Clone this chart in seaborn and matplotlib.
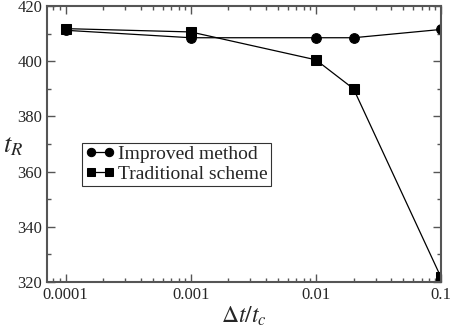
import numpy as np
import pandas as pd
import seaborn as sns
import matplotlib
matplotlib.use("Agg")
import matplotlib.pyplot as plt
from matplotlib.ticker import LogLocator, FixedLocator, FixedFormatter, MultipleLocator

dt = [0.0001, 0.001, 0.01, 0.02, 0.1]
improved = [411.2, 408.5, 408.5, 408.5, 411.5]
traditional = [411.8, 410.6, 400.5, 390.0, 321.7]

df = pd.DataFrame({
    "dt": dt * 2,
    "tR": improved + traditional,
    "method": ["Improved method"] * 5 + ["Traditional scheme"] * 5,
})

sns.set_style("ticks")
plt.rcParams["font.family"] = ["Liberation Serif", "DejaVu Serif"]
plt.rcParams["mathtext.fontset"] = "stix"

fig = plt.figure(figsize=(4.52, 3.28), dpi=100)
ax = fig.add_axes([47 / 452, 1 - 282 / 328, (441 - 47) / 452, (282 - 6) / 328])

sns.lineplot(data=df, x="dt", y="tR", hue="method", style="method",
             markers={"Improved method": "o", "Traditional scheme": "s"},
             dashes=False, palette=["black", "black"], linewidth=0.9,
             markersize=7, markeredgecolor="black", ax=ax)

ax.set_xscale("log")
ax.set_xlim(7.1e-5, 0.1)
ax.set_ylim(320, 420)

ax.xaxis.set_major_locator(FixedLocator([0.0001, 0.001, 0.01, 0.1]))
ax.xaxis.set_major_formatter(FixedFormatter(["0.0001", "0.001", "0.01", "0.1"]))
ax.xaxis.set_minor_locator(LogLocator(base=10, subs=np.arange(2, 10)))
ax.yaxis.set_major_locator(MultipleLocator(20))
ax.yaxis.set_minor_locator(MultipleLocator(10))

ax.tick_params(which="both", direction="in", top=True, right=True,
               labelsize=12, color="#555555")
ax.tick_params(which="major", length=6, width=1)
ax.tick_params(which="minor", length=3, width=1)
ax.tick_params(axis="y", which="both", labelright=False)
for s in ax.spines.values():
    s.set_color("#555555")
    s.set_linewidth(1.5)

ax.set_xlabel(r"$\Delta t/t_c$", fontsize=17, labelpad=1)
ax.set_ylabel(r"$t_R$", fontsize=19, rotation=0, labelpad=12)
ax.yaxis.set_label_coords(-0.085, 0.45)

handles, labels = ax.get_legend_handles_labels()
for h in handles:
    h.set_markersize(6)
    h.set_linewidth(0.9)
leg = ax.legend(handles, labels, loc="upper left", bbox_to_anchor=(0.09, 0.505),
                fontsize=14, numpoints=2, frameon=True, fancybox=False,
                edgecolor="black", handlelength=1.5, handletextpad=0.2,
                borderpad=0.15, labelspacing=0.1, borderaxespad=0)
leg.get_frame().set_linewidth(0.8)

fig.savefig("out.png", dpi=100)
